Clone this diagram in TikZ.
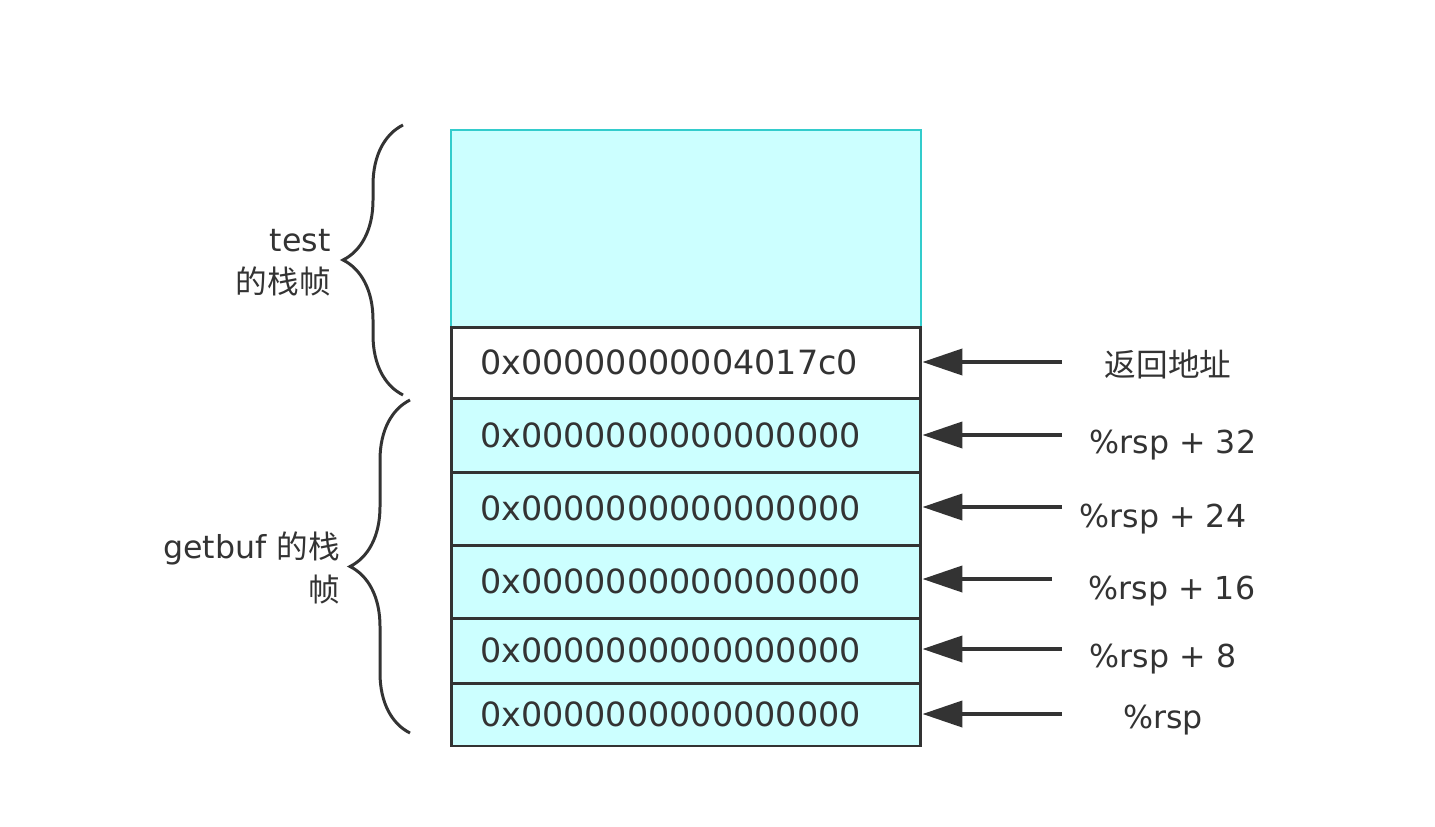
\documentclass[tikz,border=0pt]{standalone}
\usepackage{fontspec}
\setmainfont{DejaVu Sans}
\newfontfamily\cjk{Noto Sans CJK SC}
\usetikzlibrary{arrows.meta,decorations.pathreplacing}

\begin{document}
\begin{tikzpicture}[x=0.02cm, y=-0.02cm]
    \definecolor{C0}{HTML}{CCFFFF}
    \definecolor{C1}{HTML}{33CCCC}
    \definecolor{C2}{HTML}{333333}
    \tikzset{
        cell/.style={draw=C2, line width=1.7pt, fill=C0, text=C2, text width=8.24cm, inner xsep=0.58cm, inner ysep=0pt, align=left, font=\fontsize{19}{22}\selectfont},
        ptr/.style={draw=C2, line width=2.3pt, -{Triangle[length=0.8cm, width=0.52cm]}},
        lbl/.style={text=C2, font=\fontsize{18}{24}\selectfont, inner sep=0pt},
        curly/.style={draw=C2, line width=1.7pt, decorate, decoration={brace, amplitude=1.2cm}}
    }

    \useasboundingbox (0,0) rectangle (1435,827);

    \node[draw=C1, line width=1.2pt, fill=C0, minimum width=9.4cm, minimum height=3.94cm] (frame) at (686,228.5) {};

    \node[cell, fill=white, minimum height=1.42cm] (r0) at (686,362.5) {0x00000000004017c0};
    \node[cell, minimum height=1.48cm] (r1) at (686,435) {0x0000000000000000};
    \node[cell, minimum height=1.46cm] (r2) at (686,508.5) {0x0000000000000000};
    \node[cell, minimum height=1.46cm] (r3) at (686,581.5) {0x0000000000000000};
    \node[cell, minimum height=1.30cm] (r4) at (686,650.5) {0x0000000000000000};
    \node[cell, minimum height=1.26cm] (r5) at (686,714.5) {0x0000000000000000};

    \coordinate (p0) at (1062,362);
    \coordinate (p1) at (1062,435);
    \coordinate (p2) at (1062,507);
    \coordinate (p3) at (1052,579);
    \coordinate (p4) at (1062,649);
    \coordinate (p5) at (1062,714);

    \path[ptr] (p0) -- (p0 -| r0.east);
    \path[ptr] (p1) -- (p1 -| r1.east);
    \path[ptr] (p2) -- (p2 -| r2.east);
    \path[ptr] (p3) -- (p3 -| r3.east);
    \path[ptr] (p4) -- (p4 -| r4.east);
    \path[ptr] (p5) -- (p5 -| r5.east);

    \node[lbl] (l0) at (1168,364) {\cjk 返回地址};
    \node[lbl] (l1) at (1173,445) {\%rsp + 32};
    \node[lbl] (l2) at (1163,519) {\%rsp + 24};
    \node[lbl] (l3) at (1172,591) {\%rsp + 16};
    \node[lbl] (l4) at (1163,659) {\%rsp + 8};
    \node[lbl] (l5) at (1163,720) {\%rsp};

    \path[curly] (403,395) -- (403,125);
    \path[curly] (410,733) -- (410,400);

    \node[lbl, align=right, anchor=east] (test) at (331,263) {test\\{\cjk 的栈帧}};
    \node[lbl, align=right, anchor=east] (getbuf) at (340,568) {getbuf {\cjk 的栈}\\{\cjk 帧}};

\end{tikzpicture}
\end{document}
